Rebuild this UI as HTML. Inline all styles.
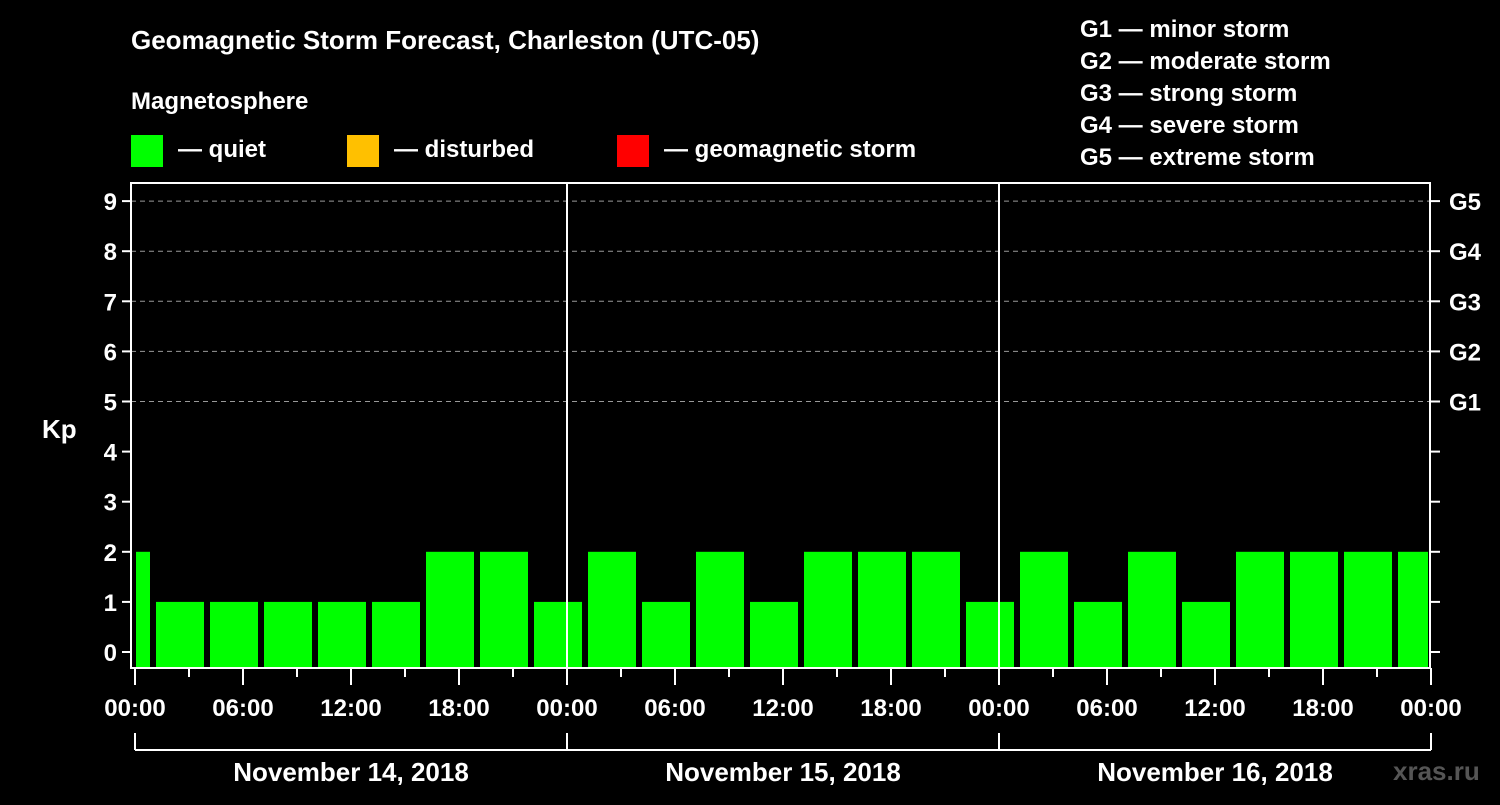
<!DOCTYPE html>
<html><head><meta charset="utf-8"><style>
body{margin:0;background:#000;width:1500px;height:800px;overflow:hidden}
svg text{font-family:"Liberation Sans",sans-serif;font-weight:bold;fill:#fff}
</style></head><body>
<svg id="c" width="1500" height="800" xmlns="http://www.w3.org/2000/svg">
<text x="131" y="49" font-size="26">Geomagnetic Storm Forecast, Charleston (UTC-05)</text>
<text x="131" y="109" font-size="24">Magnetosphere</text>
<g><rect x="131" y="135" width="32" height="32" fill="#00ff00"/><text x="178" y="157" font-size="24">— quiet</text></g>
<g><rect x="347" y="135" width="32" height="32" fill="#ffc000"/><text x="394" y="157" font-size="24">— disturbed</text></g>
<g><rect x="617" y="135" width="32" height="32" fill="#ff0000"/><text x="664" y="157" font-size="24">— geomagnetic storm</text></g>
<g font-size="24">
<text x="1080" y="37">G1 — minor storm</text>
<text x="1080" y="69">G2 — moderate storm</text>
<text x="1080" y="101">G3 — strong storm</text>
<text x="1080" y="133">G4 — severe storm</text>
<text x="1080" y="165">G5 — extreme storm</text>
</g>
<text x="42" y="438" font-size="26">Kp</text>
<text x="1393" y="780" font-size="26" fill="#555" style="fill:#555">xras.ru</text>
<g id="g"></g>
</svg>
<script>
const values=[2,1,1,1,1,1,2,2,1,2,1,2,1,2,2,2,1,2,1,2,1,2,2,2,2];
const startHour=-2;
const yTicks=[0,1,2,3,4,5,6,7,8,9];
const gLabels=["G1","G2","G3","G4","G5"];
const xLabels=["00:00","06:00","12:00","18:00","00:00","06:00","12:00","18:00","00:00","06:00","12:00","18:00","00:00"];
const dates=["November 14, 2018","November 15, 2018","November 16, 2018"];
const L=131,R=1430,T=183,B=668;
const x=h=>135+18*h, y=v=>652-50.1*v;
const NS="http://www.w3.org/2000/svg",g=document.getElementById('g');
function mk(t,a,p){const e=document.createElementNS(NS,t);for(const k in a)e.setAttribute(k,a[k]);(p||g).appendChild(e);return e;}
// grid
for(let v=5;v<=9;v++){const e=mk('line',{x1:L,x2:R,y1:y(v),y2:y(v),stroke:'#999','stroke-dasharray':'5,4','stroke-width':1});

}
// bars
values.forEach((v,i)=>{let x0=x(startHour+3*i)+3,x1=x(startHour+3*i+3)-3;x0=Math.max(x0,L+5);x1=Math.min(x1,R-2);
const e=mk('rect',{x:x0,y:y(v),width:x1-x0,height:B-y(v),fill:'#00ff00'});

});
// frame
const f=mk('rect',{x:L,y:T,width:R-L,height:B-T,fill:'none',stroke:'#fff','stroke-width':2});


[24,48].forEach(h=>{const e=mk('line',{x1:x(h),x2:x(h),y1:T,y2:B,stroke:'#fff','stroke-width':2});

});
// y ticks
yTicks.forEach(v=>{mk('line',{x1:122,x2:L,y1:y(v),y2:y(v),stroke:'#fff','stroke-width':2});mk('line',{x1:R,x2:1440,y1:y(v),y2:y(v),stroke:'#fff','stroke-width':2});
const t=mk('text',{x:117,y:y(v)+9,'font-size':24,'text-anchor':'end'});t.textContent=v;

});
gLabels.forEach((s,i)=>{const t=mk('text',{x:1449,y:y(5+i)+9,'font-size':24});t.textContent=s;

});
// x ticks
for(let h=0;h<=72;h+=3){mk('line',{x1:x(h),x2:x(h),y1:B,y2:h%6==0?685:677,stroke:'#fff','stroke-width':2});}
xLabels.forEach((s,i)=>{const t=mk('text',{x:x(6*i),y:716,'font-size':24,'text-anchor':'middle'});t.textContent=s;

});
mk('line',{x1:x(0),x2:x(72),y1:750,y2:750,stroke:'#fff','stroke-width':2});
[0,24,48,72].forEach(h=>mk('line',{x1:x(h),x2:x(h),y1:733,y2:750,stroke:'#fff','stroke-width':2}));
dates.forEach((s,i)=>{const t=mk('text',{x:x(24*i+12),y:781,'font-size':26,'text-anchor':'middle'});t.textContent=s;

});
</script>
</body></html>
